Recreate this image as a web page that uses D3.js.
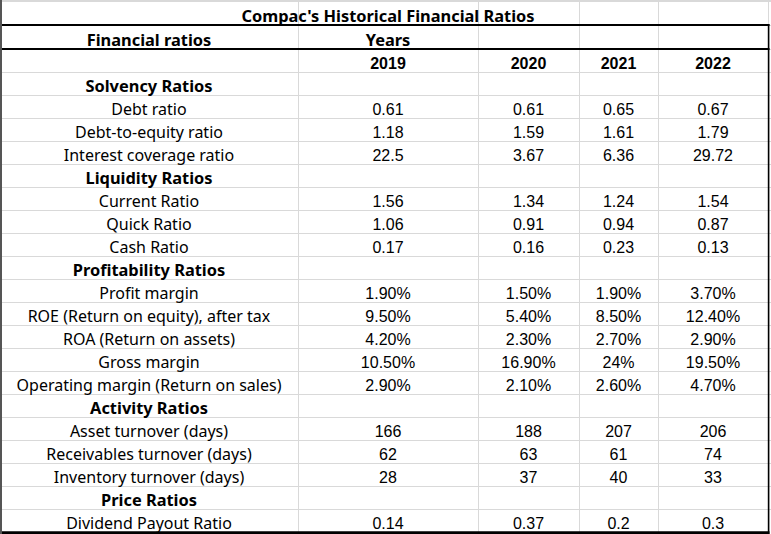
<!DOCTYPE html>
<html><head><meta charset="utf-8">
<script src="https://cdn.jsdelivr.net/npm/d3@7"></script>
<style>body{margin:0;background:#fff} svg{display:block}</style>
</head><body>
<svg id="c" width="771" height="534"></svg>
<script>
const title = "Compac's Historical Financial Ratios";
const headerLabel = "Financial ratios";
const yearsLabel = "Years";
const years = ["2019", "2020", "2021", "2022"];
const sectionNames = ["Solvency Ratios", "Liquidity Ratios", "Profitability Ratios", "Activity Ratios", "Price Ratios"];
const rowLabels = [
  "Solvency Ratios", "Debt ratio", "Debt-to-equity ratio", "Interest coverage ratio",
  "Liquidity Ratios", "Current Ratio", "Quick Ratio", "Cash Ratio",
  "Profitability Ratios", "Profit margin", "ROE (Return on equity), after tax", "ROA (Return on assets)", "Gross margin", "Operating margin (Return on sales)",
  "Activity Ratios", "Asset turnover (days)", "Receivables turnover (days)", "Inventory turnover (days)",
  "Price Ratios", "Dividend Payout Ratio"
];
const values2019 = ["", "0.61", "1.18", "22.5", "", "1.56", "1.06", "0.17", "", "1.90%", "9.50%", "4.20%", "10.50%", "2.90%", "", "166", "62", "28", "", "0.14"];
const values2020 = ["", "0.61", "1.59", "3.67", "", "1.34", "0.91", "0.16", "", "1.50%", "5.40%", "2.30%", "16.90%", "2.10%", "", "188", "63", "37", "", "0.37"];
const values2021 = ["", "0.65", "1.61", "6.36", "", "1.24", "0.94", "0.23", "", "1.90%", "8.50%", "2.70%", "24%", "2.60%", "", "207", "61", "40", "", "0.2"];
const values2022 = ["", "0.67", "1.79", "29.72", "", "1.54", "0.87", "0.13", "", "3.70%", "12.40%", "2.90%", "19.50%", "4.70%", "", "206", "74", "33", "", "0.3"];
const seriesValues = [values2019, values2020, values2021, values2022];

const W = 771, H = 534;
const svg = d3.select("#c");
const labelFont = "'Noto Sans', sans-serif";
const numFont = "'Liberation Sans', Arial, sans-serif";
const grid = "#d9d9d9";
const boldSize = 16.4;

// layout
const colEdges = [0, 298, 478, 579, 658, 768];
const bodyScale = d3.scaleLinear().domain([3, 23]).range([72, 532]);
const rowEdges = [0, 25, 49].concat(d3.range(3, 24).map(k => bodyScale(k)));
const colCenter = i => (colEdges[i] + colEdges[i + 1]) / 2;
const baseline = r => rowEdges[r + 1] - 3.5;

// gridlines
const g = svg.append("g");
g.selectAll("line.h").data(rowEdges.slice(0, -1)).join("line")
  .attr("x1", 0).attr("x2", W).attr("y1", d => Math.round(d) + 0.5).attr("y2", d => Math.round(d) + 0.5)
  .attr("stroke", grid).attr("stroke-width", 1);
g.append("line").attr("x1", 0).attr("x2", W).attr("y1", 1.5).attr("y2", 1.5).attr("stroke", grid);
g.selectAll("line.v").data(colEdges.slice(1)).join("line")
  .attr("x1", d => d + 0.5).attr("x2", d => d + 0.5).attr("y1", 0).attr("y2", H)
  .attr("stroke", grid).attr("stroke-width", 1);

// borders
svg.append("line").attr("x1", 0).attr("x2", 769.5).attr("y1", 25).attr("y2", 25).attr("stroke", "#000").attr("stroke-width", 2);
svg.append("line").attr("x1", 0).attr("x2", 769.5).attr("y1", 49).attr("y2", 49).attr("stroke", "#000").attr("stroke-width", 2);
svg.append("line").attr("x1", 0).attr("x2", 769.5).attr("y1", 532.7).attr("y2", 532.7).attr("stroke", "#000").attr("stroke-width", 2.8);
svg.append("line").attr("x1", 768.6).attr("x2", 768.6).attr("y1", 24).attr("y2", H).attr("stroke", "#000").attr("stroke-width", 1.6);
svg.append("line").attr("x1", 1).attr("x2", 1).attr("y1", 0).attr("y2", H).attr("stroke", "#555").attr("stroke-width", 2);

// texts
const t = svg.append("g").attr("text-anchor", "middle").attr("fill", "#000");
t.append("text").attr("x", colCenter(1)).attr("y", baseline(0)).attr("font-family", labelFont)
  .attr("font-weight", "bold").attr("font-size", boldSize).text(title);
t.append("text").attr("x", colCenter(0)).attr("y", baseline(1)).attr("font-family", labelFont)
  .attr("font-weight", "bold").attr("font-size", boldSize).text(headerLabel);
t.append("text").attr("x", colCenter(1)).attr("y", baseline(1)).attr("font-family", labelFont)
  .attr("font-weight", "bold").attr("font-size", boldSize).text(yearsLabel);
t.selectAll("text.yr").data(years).join("text").attr("class", "yr")
  .attr("x", (d, i) => colCenter(i + 1)).attr("y", baseline(2))
  .attr("font-family", numFont).attr("font-weight", "bold").attr("font-size", 16).text(d => d);

t.selectAll("text.lab").data(rowLabels).join("text").attr("class", "lab")
  .attr("x", colCenter(0)).attr("y", (d, i) => baseline(i + 3))
  .attr("font-family", labelFont)
  .attr("font-size", d => sectionNames.includes(d) ? boldSize : 16)
  .attr("font-weight", d => sectionNames.includes(d) ? "bold" : "normal")
  .text(d => d);

seriesValues.forEach((vals, c) => {
  t.selectAll("text.v" + c).data(vals).join("text").attr("class", "v" + c)
    .attr("x", colCenter(c + 1)).attr("y", (d, i) => baseline(i + 3))
    .attr("font-family", numFont).attr("font-size", 16).text(d => d);
});
</script>
</body></html>
